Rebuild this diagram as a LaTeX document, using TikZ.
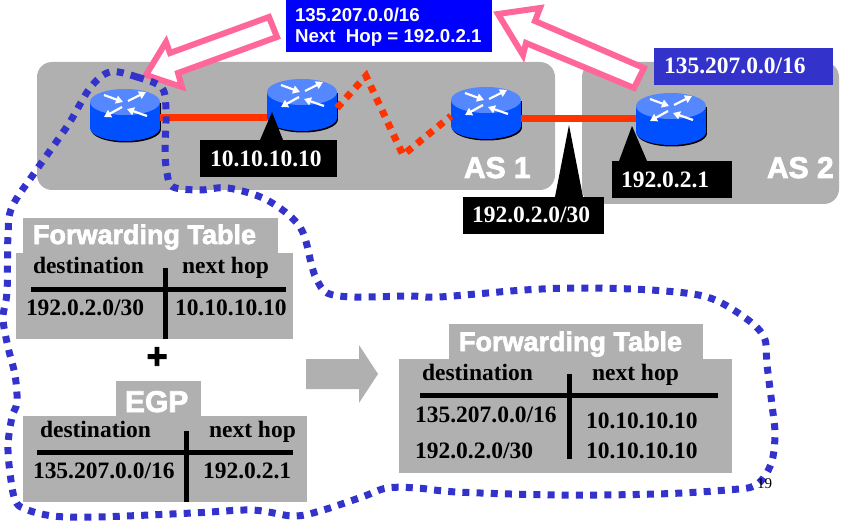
\documentclass[tikz,border=0pt]{standalone}
\usepackage{fontspec}
\setmainfont{Liberation Serif}
\setsansfont{Liberation Sans}
\newfontfamily\headfont[BoldFeatures={FakeBold=2.5}]{Liberation Sans}
\usetikzlibrary{arrows.meta}
\definecolor{panelgray}{HTML}{B0B0B0}
\definecolor{linkred}{HTML}{FF3300}
\definecolor{pinkline}{HTML}{FF6699}
\definecolor{dotblue}{HTML}{3333CC}
\definecolor{routertop}{HTML}{5588FF}
\definecolor{routerbody}{HTML}{0050FF}
\tikzset{
  router/.pic={
    \fill[black] (1,27.5) ellipse [x radius=35, y radius=13];
    \fill[black] (-34,1.5) rectangle (36,27.5);
    \fill[routerbody] (0,26) ellipse [x radius=35, y radius=13];
    \fill[routerbody] (-35,0) rectangle (35,26);
    \fill[routertop] (0,0) ellipse [x radius=35, y radius=13];
    \foreach \ax/\ay/\bx/\by in {-21/-7/-2/0,3/-1/21/-10,-3/5/-21/15,22/14/2/7}{
      \draw[white,line width=2.2pt,-{Triangle[length=7pt,width=8pt]}] (\ax,\ay) -- (\bx,\by);
    };
    \coordinate (-west) at (-35,16);
    \coordinate (-east) at (35,16);
  },
}
\begin{document}
\begin{tikzpicture}[x=1pt,y=-1pt,
  every node/.style={inner sep=0pt,outer sep=0pt},
  panel/.style={fill=panelgray,anchor=north west},
  labelbox/.style={fill=black,anchor=north west},
  redlink/.style={draw=linkred,line width=7pt},
  reddots/.style={draw=linkred,line width=7pt,dash pattern=on 7pt off 6.5pt},
  bluedots/.style={draw=dotblue,line width=7pt,dash pattern=on 7pt off 7.2pt},
  pinkarrow/.style={draw=pinkline,fill=white,line width=6pt,line join=miter},
  tabrule/.style={line width=5pt},
  celltxt/.style={anchor=base west,font=\fontsize{23.5}{25}\selectfont\bfseries},
  whitetxt/.style={celltxt,text=white},
  headtxt/.style={anchor=base west,text=white,font=\fontsize{27}{29}\selectfont\headfont\bfseries},
  astxt/.style={anchor=base west,text=white,font=\fontsize{30}{32}\selectfont\headfont\bfseries},
  ]
  \useasboundingbox (0,0) rectangle (847,532);

  \node[panel,minimum width=518pt,minimum height=128pt,rounded corners=15pt] (asa) at (37,62) {};
  \node[panel,minimum width=257pt,minimum height=142pt,rounded corners=15pt] (asb) at (582,62) {};
  \node[astxt] (asaname) at (464,178) {AS 1};
  \node[astxt] (asbname) at (767,178) {AS 2};

  \pic (ra) at (125,102) {router};
  \pic (rb) at (302,92) {router};
  \pic (rc) at (486,100) {router};
  \pic (rd) at (671,106) {router};

  \coordinate (lnkb) at (569,119);
  \coordinate (zigA) at (366,76);
  \coordinate (zigB) at (403,155);
  \draw[redlink] (ra-east) -- (ra-east -| rb-west);
  \draw[redlink] (rc-east |- lnkb) -- (rd-west |- lnkb);
  \draw[reddots] (rb-east) -- (zigA) -- (zigB) -- (rc-west);

  \node[fill=blue,anchor=north west,minimum width=206pt,minimum height=52pt] (nhbox) at (286,0) {};
  \node[anchor=base west,text=white,font=\fontsize{18.7}{20}\selectfont\sffamily\bfseries] (nhprefix) at (295,22) {135.207.0.0/16};
  \node[anchor=base west,text=white,font=\fontsize{18.7}{20}\selectfont\sffamily\bfseries] (nhhop) at (295,43) {Next\ \ Hop = 192.0.2.1};
  \node[fill=dotblue,anchor=north west,minimum width=179pt,minimum height=37pt] (prefixbox) at (654,48) {};
  \node[whitetxt] (prefixtxt) at (664,74) {135.207.0.0/16};

  \draw[pinkarrow] (146,75) -- (166,42) -- (170,53) -- (269,17) -- (277,37)
    -- (178,73) -- (182,87) -- cycle;
  \draw[pinkarrow] (498,14) -- (540,8) -- (535,21) -- (644,68) -- (634,88)
    -- (526,43) -- (523,55) -- cycle;

  \fill (272,112) -- (260,140) -- (283,140) -- cycle;
  \node[labelbox,minimum width=137pt,minimum height=37pt] (lblrb) at (200,140) {};
  \node[whitetxt] (lblrbtxt) at (210,167) {10.10.10.10};
  \fill (632,126) -- (619,161) -- (647,161) -- cycle;
  \node[labelbox,minimum width=120pt,minimum height=37pt] (lblrd) at (612,161) {};
  \node[whitetxt] (lblrdtxt) at (621,188) {192.0.2.1};
  \fill (569,125) -- (555,197) -- (583,197) -- cycle;
  \node[labelbox,minimum width=141pt,minimum height=37pt] (lbllnk) at (463,197) {};
  \node[whitetxt] (lbllnktxt) at (472,223) {192.0.2.0/30};

  \node[panel,minimum width=255pt,minimum height=36pt] (tabatab) at (23,218) {};
  \node[panel,minimum width=277pt,minimum height=86pt] (tababody) at (16,253) {};
  \node[headtxt] (tabaname) at (33,244) {Forwarding Table};
  \draw[tabrule] (31,289) -- (286,289);
  \draw[tabrule] (165,268) -- (165,339);
  \node[celltxt] (tabadest) at (33,273) {destination};
  \node[celltxt] (tabanext) at (182,273) {next hop};
  \node[celltxt] (tabaaddr) at (26,316) {192.0.2.0/30};
  \node[celltxt] (tabahop) at (175,316) {10.10.10.10};

  \node[font=\fontsize{36}{38}\selectfont\headfont\bfseries] (plus) at (157,358) {+};

  \node[panel,minimum width=85pt,minimum height=36pt] (tabbtab) at (116,381) {};
  \node[panel,minimum width=284pt,minimum height=86pt] (tabbbody) at (23,416) {};
  \node[astxt] (tabbname) at (125,412) {EGP};
  \draw[tabrule] (37,452) -- (293,452);
  \draw[tabrule] (186,431) -- (186,502);
  \node[celltxt] (tabbdest) at (40,437) {destination};
  \node[celltxt] (tabbnext) at (209,437) {next hop};
  \node[celltxt] (tabbaddr) at (33,478) {135.207.0.0/16};
  \node[celltxt] (tabbhop) at (203,478) {192.0.2.1};

  \fill[panelgray] (306,359) -- (359,359) -- (359,345) -- (378,374) -- (359,403)
    -- (359,389) -- (306,389) -- cycle;

  \node[panel,minimum width=254pt,minimum height=36pt] (tabctab) at (449,324) {};
  \node[panel,minimum width=333pt,minimum height=114pt] (tabcbody) at (399,359) {};
  \node[headtxt] (tabcname) at (459,351) {Forwarding Table};
  \draw[tabrule] (420,395) -- (718,395);
  \draw[tabrule] (569,374) -- (569,459);
  \node[celltxt] (tabcdest) at (422,380) {destination};
  \node[celltxt] (tabcnext) at (592,380) {next hop};
  \node[celltxt] (tabcaddra) at (415,422) {135.207.0.0/16};
  \node[celltxt] (tabchopa) at (586,428) {10.10.10.10};
  \node[celltxt] (tabcaddrb) at (415,458) {192.0.2.0/30};
  \node[celltxt] (tabchopb) at (586,458) {10.10.10.10};

  \draw[bluedots] plot[smooth cycle,tension=0.55] coordinates {
    (110,72) (137,77) (162,88) (166,113) (165,150) (167,173) (173,187) (200,190)
    (228,188) (267,200) (300,227) (312,267) (317,280) (327,293) (353,297) (410,296)
    (439,297) (524,290) (581,288) (651,290) (707,297) (744,317) (764,337) (767,365)
    (772,405) (775,435) (771,464) (756,485) (727,490) (657,494) (557,495) (457,492)
    (417,488) (387,488) (362,497) (320,511) (293,516) (252,510) (193,513) (97,517)
    (53,516) (25,509) (15,500) (10,473) (8,445) (12,417) (17,402) (15,375) (8,347)
    (3,318) (7,292) (8,235) (12,207) (35,172) (68,125) (90,88)};

  \node[anchor=base west,font=\fontsize{15}{16}\selectfont] (pagenum) at (757,488) {19};
\end{tikzpicture}
\end{document}
